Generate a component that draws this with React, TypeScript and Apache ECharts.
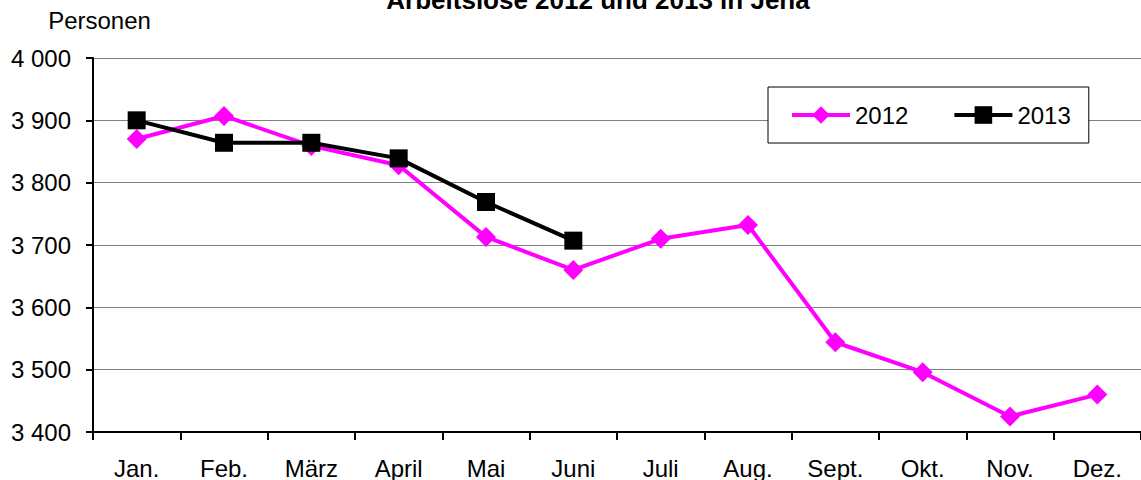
import React, { useEffect, useRef } from "react";
import * as echarts from "echarts";

const months = ["Jan.", "Feb.", "März", "April", "Mai", "Juni", "Juli", "Aug.", "Sept.", "Okt.", "Nov.", "Dez."];
const values2012 = [3870, 3907, 3859, 3828, 3713, 3660, 3710, 3732, 3544, 3496, 3425, 3460];
const values2013 = [3900, 3864, 3864, 3839, 3769, 3707];
const titleText = "Arbeitslose 2012 und 2013 in Jena";
const yAxisName = "Personen";

const FONT = "'Liberation Sans', Arial, sans-serif";

export default function App() {
  const ref = useRef<HTMLDivElement>(null);
  useEffect(() => {
    document.body.style.margin = "0";
    const chart = echarts.init(ref.current!, null, { renderer: "svg" });
    chart.setOption({
      animation: false,
      backgroundColor: "#fff",
      textStyle: { fontFamily: FONT },
      graphic: [
        {
          type: "text",
          x: 598,
          y: 0,
          style: {
            text: titleText,
            font: `bold 26px ${FONT}`,
            fill: "#000",
            textAlign: "center",
            textVerticalAlign: "middle",
          },
        },
      ],
      legend: {
        left: 768,
        top: 87,
        padding: [16, 18, 16, 22],
        itemGap: 44,
        itemWidth: 58,
        itemHeight: 22,
        borderColor: "#000",
        borderWidth: 1,
        backgroundColor: "#fff",
        lineStyle: { width: 4 },
        textStyle: { fontSize: 24, color: "#000", fontFamily: FONT },
        data: ["2012", "2013"],
      },
      grid: { left: 93, top: 58, bottom: 47, right: -10, containLabel: false },
      xAxis: {
        type: "category",
        data: months,
        boundaryGap: true,
        axisLine: { lineStyle: { color: "#000", width: 2 } },
        axisTick: { show: true, length: 8, interval: 0, lineStyle: { color: "#000", width: 2 } },
        axisLabel: { fontSize: 24, color: "#000", margin: 24, interval: 0, fontFamily: FONT },
      },
      yAxis: {
        type: "value",
        min: 3400,
        max: 4000,
        interval: 100,
        name: yAxisName,
        nameLocation: "end",
        nameGap: 26,
        nameTextStyle: { fontSize: 24, color: "#000", align: "center", padding: [0, 0, 0, 13], fontFamily: FONT },
        axisLine: { show: true, lineStyle: { color: "#000", width: 2 } },
        axisTick: { show: true, length: 7, lineStyle: { color: "#000", width: 2 } },
        axisLabel: {
          fontSize: 24,
          color: "#000",
          margin: 22,
          fontFamily: FONT,
          formatter: (v: number) => {
            const s = String(Math.round(v));
            return s.length > 3 ? s.slice(0, s.length - 3) + " " + s.slice(-3) : s;
          },
        },
        splitLine: { show: true, lineStyle: { color: "#808080", width: 1 } },
      },
      series: [
        {
          name: "2012",
          type: "line",
          data: values2012,
          symbol: "diamond",
          symbolSize: 20,
          lineStyle: { color: "#ff00ff", width: 4 },
          itemStyle: { color: "#ff00ff" },
          z: 2,
        },
        {
          name: "2013",
          type: "line",
          data: values2013,
          symbol: "rect",
          symbolSize: 18,
          lineStyle: { color: "#000", width: 4 },
          itemStyle: { color: "#000" },
          z: 3,
        },
      ],
    });
    return () => chart.dispose();
  }, []);
  return <div ref={ref} style={{ width: 1141, height: 480 }} />;
}
